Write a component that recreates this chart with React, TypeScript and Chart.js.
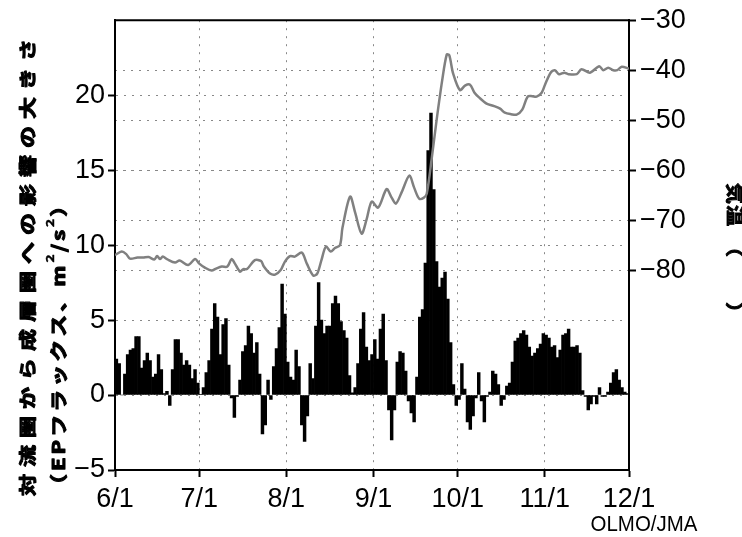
import React, { useEffect, useRef } from "react";
import { Chart, registerables } from "chart.js";

Chart.register(...registerables);

// Daily EP-flux values (m^2/s^2), 6/1 .. 11/30
const epFlux: number[] = [
  2.4, 2.1, 0, 1.4, 2.7, 3.0, 3.1, 3.9, 3.9, 1.8,
  2.3, 2.8, 2.3, 1.2, 1.4, 2.7, 1.7, 0.1, 0.25, -0.7,
  1.7, 3.7, 3.7, 2.8, 2.0, 2.3, 2.0, 1.1, 1.7, 0.8,
  0.05, 0.5, 1.5, 2.3, 4.4, 6.1, 5.2, 2.7, 4.7, 5.1,
  2.0, -0.2, -1.5, -0.1, 1.0, 2.9, 3.3, 4.6, 4.1, 2.8,
  3.5, 1.4, -2.6, -2.0, 1.0, -0.3, 1.9, 3.1, 4.5, 7.4,
  5.4, 2.2, 1.2, 1.0, 3.0, 1.9, -2.0, -3.1, -1.4, 2.1,
  1.1, 4.6, 7.5, 5.0, 4.1, 4.6, 4.6, 6.1, 6.6, 6.1,
  4.9, 4.3, 3.8, 1.3, 0.15, 0.5, 2.1, 4.4, 5.5, 3.2,
  2.3, 2.7, 3.7, 2.4, 4.4, 5.4, 2.3, -1.0, -3.0, -1.0,
  2.2, 2.9, 2.8, 1.6, -0.4, -1.2, -1.8, 1.2, 5.2, 5.7,
  8.8, 16.3, 18.8, 13.7, 8.9, 7.2, 7.8, 8.2, 6.4, 3.5,
  0.7, -0.7, -0.3, 2.1, 0.4, -1.8, -2.3, -1.4, -0.2, 1.5,
  -0.4, -1.8, -0.1, 0.2, 1.6, 1.4, 0.7, -0.7, -0.3, 0.6,
  0.8, 2.2, 3.6, 3.8, 4.1, 4.3, 4.0, 3.2, 2.6, 2.8,
  3.1, 3.4, 4.1, 4.0, 3.8, 3.2, 3.3, 2.5, 3.0, 4.0,
  4.1, 4.4, 3.2, 3.2, 3.3, 2.8, 0.3, -0.1, -1.0, -0.6,
  -0.1, -0.6, 0.5, -0.1, -0.1, 0.2, 0.8, 1.5, 1.7, 1.0,
  0.5, 0.2, 0.1,
];

// Temperature curve (day offset from 6/1, degrees)
const tempDays: number[] = [
  0, 2.4, 4, 5.3, 8, 10, 12, 14, 15, 16, 17, 18.5, 21.4, 23, 26, 28.5, 30, 32, 34.4, 36,
  38, 40, 41.5, 42.7, 44.5, 45.7, 47, 49.8, 52, 53, 55.2, 57, 59, 60.5, 62.3, 64, 66.5, 68.3, 70.6, 72,
  73.5, 75.1, 76.8, 78.3, 80.1, 81, 83.7, 85.5, 87.8, 89.6, 91.4, 93.7, 96.7, 98.5, 100, 102, 104.8, 106.5, 108.3, 110,
  111, 112.8, 114.5, 116.5, 118.1, 119, 120.4, 122.8, 124.6, 126.4, 128, 129.7, 132.3, 135, 137.1, 138.8, 141, 143, 145, 146.9,
  148.5, 150.1, 151.9, 153.1, 155.1, 156.6, 158.1, 160, 161.4, 164.4, 166.1, 169.1, 172.4, 173.8, 175.6, 177.4, 178.8, 180.4, 183,
];
const tempValues: number[] = [
  -77.0, -76.3, -76.8, -77.7, -77.5, -77.5, -77.4, -77.9, -77.2, -77.8, -77.3, -77.8, -78.5, -78.1, -79, -77.8, -78.7, -79.5, -80.1, -79.7,
  -79.3, -79.3, -77.8, -78.7, -80.3, -79.8, -79.8, -78, -78.2, -79.3, -80.7, -80.9, -80, -78.3, -77.2, -77.3, -76.5, -78.7, -81.1, -80.7,
  -78, -75.3, -76.3, -75.6, -75, -71.5, -65.3, -68.5, -72.7, -69.8, -66.3, -67.5, -63.8, -65.5, -66.7, -64.5, -61.1, -63.5, -65.7, -65.5,
  -64.7, -57.5, -50, -42, -36.9, -37, -40.7, -44, -43.1, -42.9, -44.5, -45.5, -46.7, -47.2, -47.7, -48.5, -48.8, -48.9, -47.9, -45.3,
  -45.2, -45.3, -44.5, -42.9, -40.5, -40, -40.8, -40.5, -40.8, -40.8, -39.8, -40.5, -39.2, -40, -39.5, -40, -40, -39.3, -39.7,
];

const monthDays: number[] = [0, 30, 61, 92, 122, 153, 183];
const monthLabels: string[] = ["6/1", "7/1", "8/1", "9/1", "10/1", "11/1", "12/1"];
const leftTicks: number[] = [-5, 0, 5, 10, 15, 20];
const rightTicks: number[] = [-30, -40, -50, -60, -70, -80];

const leftTitle = "対流圏から成層圏への影響の大きさ";
const rightTitle = ["気", "温", "（", "）"];
const credit = "OLMO/JMA";

const SANS = '"Liberation Sans", Arial, sans-serif';
const CJK = '"Noto Sans CJK JP", "Noto Sans CJK SC", sans-serif';

const fmt = (v: number) => (v < 0 ? "\u2212" + Math.abs(v) : String(v));

function boldText(ctx: CanvasRenderingContext2D, t: string, x: number, y: number, w = 1.1) {
  ctx.lineWidth = w;
  ctx.strokeStyle = "#000";
  ctx.lineJoin = "round";
  ctx.strokeText(t, x, y);
  ctx.fillText(t, x, y);
}

const decorPlugin = {
  id: "decor",
  afterDraw(chart: any) {
    const ctx: CanvasRenderingContext2D = chart.ctx;
    const ca = chart.chartArea;
    ctx.save();
    // top frame
    ctx.strokeStyle = "#000";
    ctx.lineWidth = 2;
    ctx.beginPath();
    ctx.moveTo(ca.left - 1, ca.top);
    ctx.lineTo(ca.right + 1, ca.top);
    ctx.stroke();

    ctx.fillStyle = "#000";
    // left title, line 1
    ctx.save();
    ctx.translate(27, 496);
    ctx.rotate(-Math.PI / 2);
    ctx.scale(1, 0.8);
    ctx.font = `bold 22px ${CJK}`;
    (ctx as any).letterSpacing = "7px";
    ctx.textAlign = "left";
    ctx.textBaseline = "middle";
    boldText(ctx, leftTitle, 0, 0, 1.3);
    ctx.restore();

    // left title, line 2 with superscripts
    ctx.save();
    ctx.translate(58, 496);
    ctx.rotate(-Math.PI / 2);
    ctx.scale(1, 0.8);
    ctx.textAlign = "left";
    ctx.textBaseline = "middle";
    const parts: [string, boolean][] = [
      ["（EPフラックス、m", false],
      ["2", true],
      ["/s", false],
      ["2", true],
      ["）", false],
    ];
    let x = 0;
    for (const [t, sup] of parts) {
      ctx.font = sup ? `bold 14px ${CJK}` : `bold 22px ${CJK}`;
      (ctx as any).letterSpacing = sup ? "2px" : "3px";
      boldText(ctx, t, x, sup ? -10 : 0, sup ? 0.6 : 1.3);
      x += ctx.measureText(t).width;
    }
    ctx.restore();

    // right title (rotated clockwise)
    ctx.save();
    ctx.translate(735, 0);
    ctx.rotate(Math.PI / 2);
    ctx.scale(1, 0.85);
    ctx.font = `bold 21px ${CJK}`;
    ctx.textAlign = "left";
    ctx.textBaseline = "middle";
    const pos = [183, 205, 236, 302];
    rightTitle.forEach((c, i) => boldText(ctx, c, pos[i], 0, 1));
    ctx.restore();

    // credit
    ctx.font = `22px ${SANS}`;
    ctx.textAlign = "center";
    ctx.textBaseline = "middle";
    ctx.save();
    ctx.translate(644, 525);
    ctx.scale(0.93, 1);
    ctx.fillText(credit, 0, 0);
    ctx.restore();
    ctx.restore();
  },
};

export default function App() {
  const ref = useRef<HTMLCanvasElement | null>(null);

  useEffect(() => {
    if (!ref.current) return;
    const barData = epFlux.map((v, i) => ({ x: i + 0.5, y: v }));
    const lineData = tempDays.map((d, i) => ({ x: d, y: tempValues[i] }));
    const gridDash = [2, 6];
    const tickFont = { family: SANS, size: 27 };
    const gridOpts: any = {
      color: "#888",
      lineWidth: 1,
      tickColor: "#000",
      tickWidth: 2,
      tickLength: 7,
      tickBorderDash: [],
      offset: false,
    };

    const chart = new Chart(ref.current, {
      type: "bar",
      data: {
        datasets: [
          {
            type: "line",
            data: lineData,
            yAxisID: "y2",
            borderColor: "#808080",
            borderWidth: 2.5,
            pointRadius: 0,
            tension: 0.3,
            order: 0,
          } as any,
          {
            type: "bar",
            data: barData,
            yAxisID: "y",
            backgroundColor: "#000",
            borderWidth: 0,
            barPercentage: 1,
            categoryPercentage: 1,
            order: 1,
          } as any,
        ],
      },
      options: {
        responsive: false,
        animation: false,
        layout: { padding: { top: 20, left: 0, right: 0, bottom: 0 } },
        plugins: { legend: { display: false }, tooltip: { enabled: false } },
        scales: {
          x: {
            type: "linear",
            offset: false,
            min: 0,
            max: 183,
            afterBuildTicks: (s: any) => {
              s.ticks = monthDays.map((v) => ({ value: v }));
            },
            afterFit: (s: any) => {
              s.height = 67;
            },
            ticks: {
              autoSkip: false,
              maxRotation: 0,
              color: "#000",
              font: tickFont,
              padding: 6,
              callback: (_v: any, i: number) => monthLabels[i],
            },
            grid: gridOpts,
            border: { display: true, color: "#000", width: 2, dash: gridDash },
          },
          y: {
            position: "left",
            min: -5,
            max: 25,
            afterBuildTicks: (s: any) => {
              s.ticks = leftTicks.map((v) => ({ value: v }));
            },
            afterFit: (s: any) => {
              s.width = 115;
            },
            ticks: { color: "#000", font: tickFont, padding: 3, callback: (v: any) => fmt(Number(v)) },
            grid: gridOpts,
            border: { display: true, color: "#000", width: 2, dash: gridDash },
          },
          y2: {
            position: "right",
            min: -120,
            max: -30,
            afterBuildTicks: (s: any) => {
              s.ticks = rightTicks.map((v) => ({ value: v }));
            },
            afterFit: (s: any) => {
              s.width = 113;
            },
            ticks: { color: "#000", font: tickFont, padding: 4, callback: (v: any) => fmt(Number(v)) },
            grid: gridOpts,
            border: { display: true, color: "#000", width: 2, dash: gridDash },
          },
        },
      } as any,
      plugins: [decorPlugin],
    });
    return () => chart.destroy();
  }, []);

  return (
    <div style={{ position: "fixed", left: 0, top: 0, width: 742, height: 537, background: "#fff" }}>
      <canvas ref={ref} width={742} height={537} style={{ display: "block" }} />
    </div>
  );
}
